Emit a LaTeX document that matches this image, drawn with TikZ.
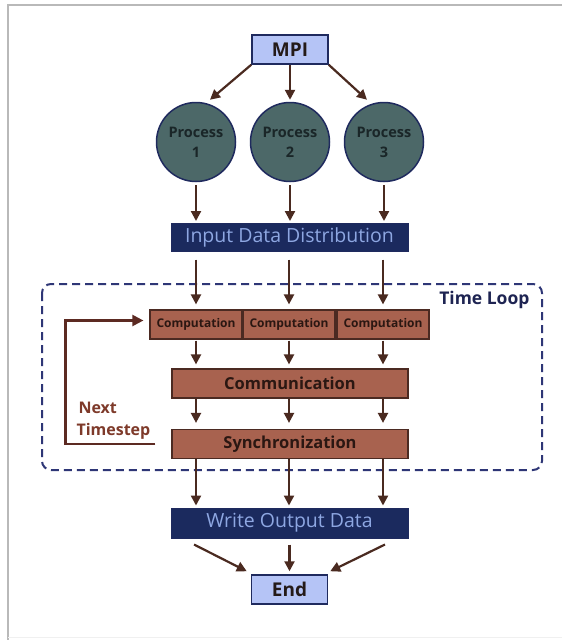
\documentclass[tikz,border=0pt]{standalone}
\usepackage{fontspec}
\setmainfont{Open Sans}
\usetikzlibrary{arrows.meta}

\definecolor{lightblue}{HTML}{B5C4F6}
\definecolor{navyline}{HTML}{1F2A5E}
\definecolor{tealfill}{HTML}{4C6868}
\definecolor{proctext}{HTML}{1A2628}
\definecolor{navyfill}{HTML}{1B2A5E}
\definecolor{paleblue}{HTML}{8EA7E2}
\definecolor{brownfill}{HTML}{A8624F}
\definecolor{brownline}{HTML}{4B2A22}
\definecolor{browntext}{HTML}{2B1712}
\definecolor{arrowc}{HTML}{4A2A20}
\definecolor{dashc}{HTML}{2E3676}
\definecolor{titlec}{HTML}{1E2452}
\definecolor{nextc}{HTML}{7E3A2A}
\definecolor{loopc}{HTML}{5C2A22}
\definecolor{darktext}{HTML}{241A18}

\begin{document}
\begin{tikzpicture}[x=1pt,y=-1pt,
  lightbox/.style={draw=navyline, line width=1.5pt, fill=lightblue,
    minimum width=76pt, minimum height=29pt, inner sep=0pt,
    font=\fontsize{19}{19}\selectfont\bfseries, text=darktext},
  proc/.style={circle, draw=navyline, line width=1.5pt, fill=tealfill,
    minimum size=79pt, inner sep=0pt, align=center,
    font=\fontsize{14.5}{20}\selectfont\bfseries, text=proctext},
  databox/.style={draw=navyline, line width=1pt, fill=navyfill,
    minimum width=237pt, minimum height=28pt, inner sep=0pt,
    text=paleblue, font=\fontsize{19.5}{19.5}\selectfont},
  stagebox/.style={draw=brownline, line width=1.2pt, fill=brownfill,
    minimum height=29pt, inner sep=0pt, text=browntext},
  smallstage/.style={stagebox, minimum width=92pt,
    font=\fontsize{12}{12}\selectfont\bfseries},
  widestage/.style={stagebox, minimum width=236pt,
    font=\fontsize{16.5}{16.5}\selectfont\bfseries},
  flow/.style={draw=arrowc, line width=2.2pt,
    -{Triangle[length=10pt,width=10pt]}},
  backflow/.style={draw=loopc, line width=2.2pt,
    -{Triangle[length=11pt,width=11pt]}},
]
\useasboundingbox (0,0) rectangle (562,640);
\fill[white] (0,0) rectangle (562,640);

% outer frame
\draw[gray!55, line width=1.5pt] (8,640) -- (8,5) -- (562,5);
\draw[gray!12, line width=1pt] (8,637) -- (562,637);

% time loop region
\draw[dashc, line width=2pt, dash pattern=on 8pt off 5pt, rounded corners=9pt]
  (42,284) rectangle (542,470);
\node[anchor=east, text=titlec, font=\fontsize{17.5}{17.5}\selectfont\bfseries]
  (tl) at (533,300) {Time Loop};

% nodes
\node[lightbox] (mpi) at (290,49.5) {MPI};
\node[proc] (p1) at (196,142) {Process\\1};
\node[proc] (p2) at (290,142) {Process\\2};
\node[proc] (p3) at (384,142) {Process\\3};
\node[databox] (inp) at (289.5,237) {Input Data Distribution};
\node[smallstage] (c1) at (196,324.5) {Computation};
\node[smallstage] (c2) at (289,324.5) {Computation};
\node[smallstage] (c3) at (383,324.5) {Computation};
\node[widestage] (comm) at (290,383.5) {Communication};
\node[widestage] (sync) at (290,444) {Synchronization};
\node[databox, minimum height=30pt] (out) at (289.5,523) {Write Output Data};
\node[lightbox] (fin) at (289.5,589.5) {End};

\node[anchor=west, align=left, text=nextc,
  font=\fontsize{16}{22}\selectfont\bfseries]
  (nt) at (73,421) {\hspace{2pt}Next\\Timestep};

% MPI spawns the processes
\draw[flow] (mpi.south west) -- ([xshift=14pt,yshift=2pt]p1.north);
\draw[flow] (mpi.south) -- ([yshift=2pt]p2.north);
\draw[flow] (mpi.south east) -- ([xshift=-17pt,yshift=2pt]p3.north);

% processes feed the input distribution
\foreach \p in {p1,p2,p3}
  \draw[flow, shorten <=3pt, shorten >=1.5pt] (\p.south) -- (\p.south |- inp.north);

% stages inside the loop
\foreach \c in {c1,c2,c3} {
  \draw[flow, shorten <=8pt, shorten >=5pt] (inp.south -| \c) -- (\c.north);
  \draw[flow, shorten <=1pt, shorten >=4pt] (\c.south) -- (\c.south |- comm.north);
  \draw[flow, shorten >=6pt] (comm.south -| \c) -- (\c |- sync.north);
  \draw[flow, shorten >=2pt] (sync.south -| \c) -- (\c |- out.north);
}

% back edge to the next timestep
\draw[backflow] ([xshift=-16pt]sync.west) -- ++(-90,0)
  |- ([xshift=-6pt,yshift=4pt]c1.west);

% gather to the end
\draw[flow] ([xshift=-95.5pt,yshift=-6pt]out.south)
  -- ([xshift=-4pt,yshift=3pt]fin.north west);
\draw[flow, shorten <=6pt, shorten >=3pt] (out.south) -- (fin.north);
\draw[flow] ([xshift=95.5pt,yshift=-6pt]out.south)
  -- ([xshift=2pt,yshift=3pt]fin.north east);
\end{tikzpicture}
\end{document}
